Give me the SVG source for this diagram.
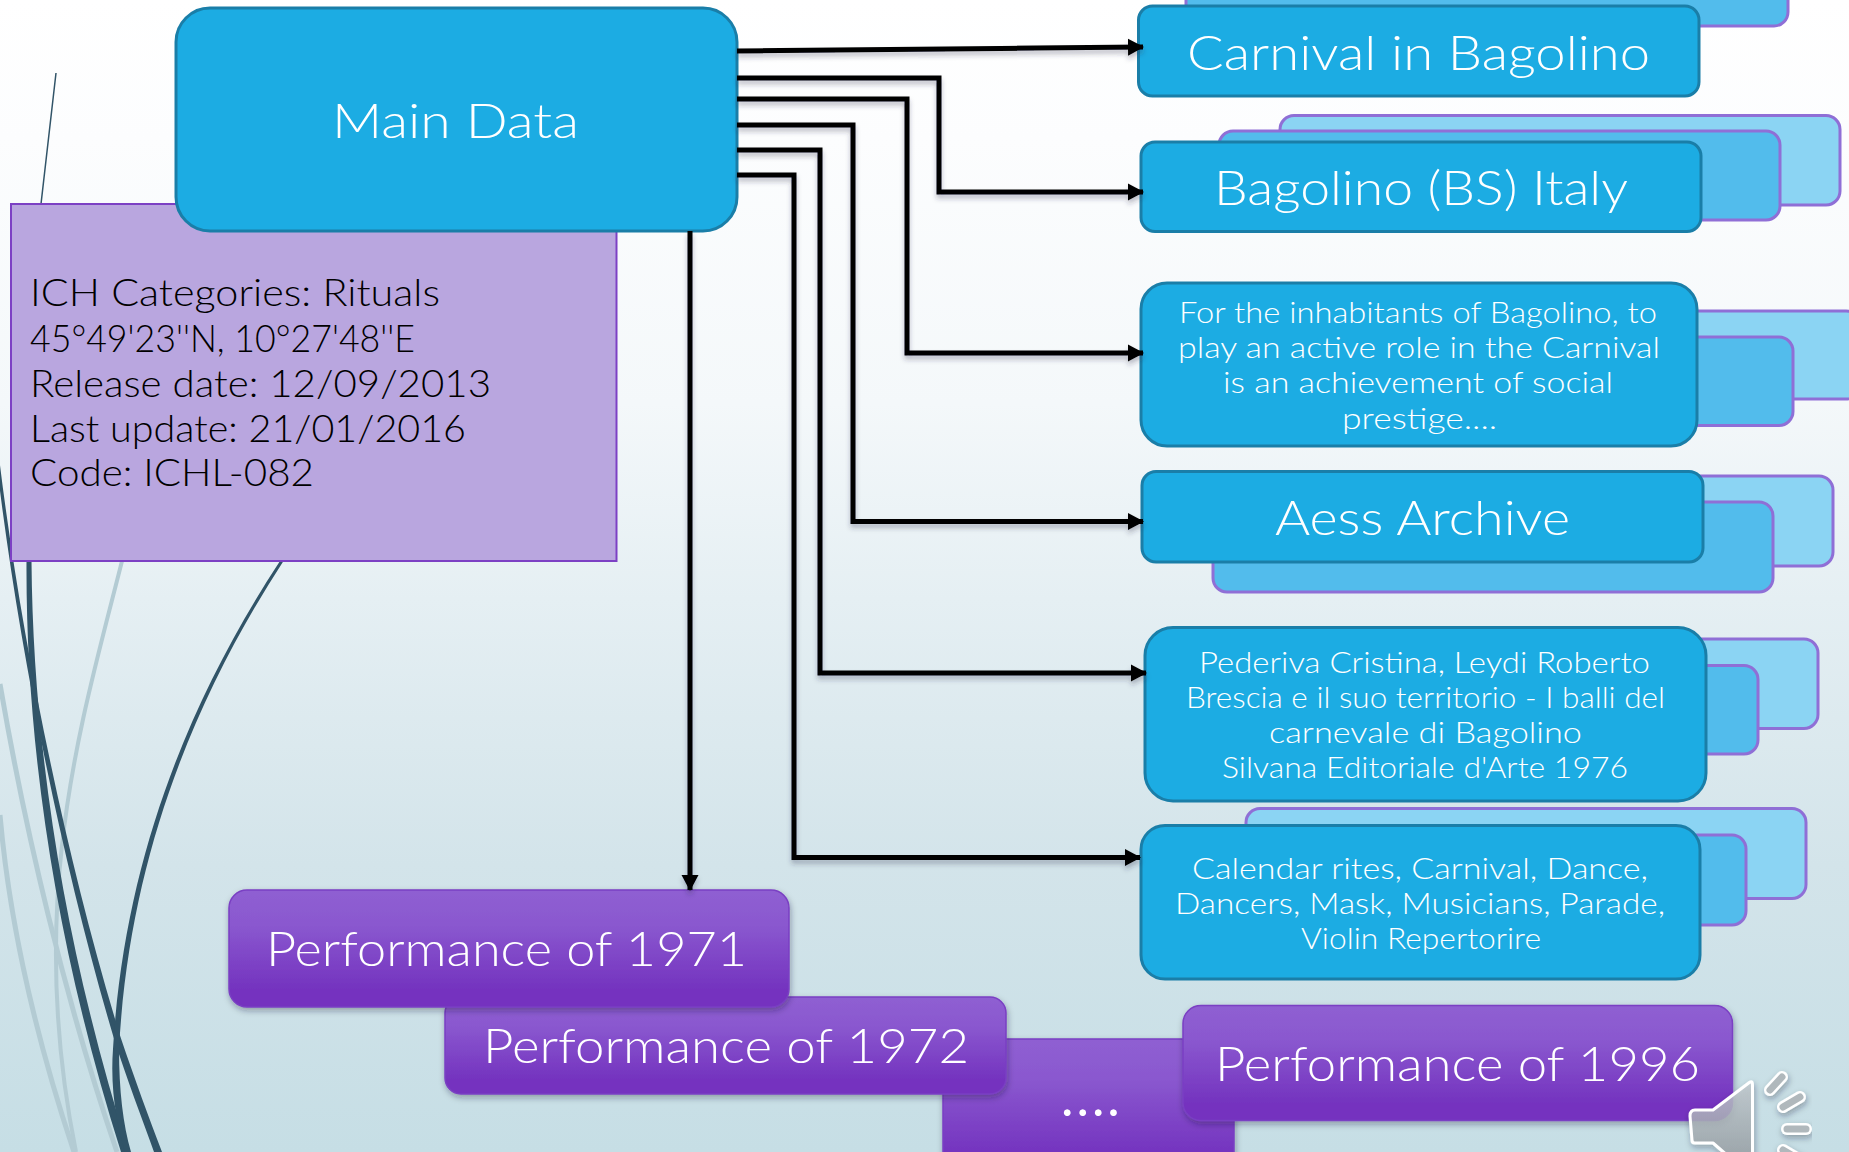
<svg xmlns="http://www.w3.org/2000/svg" width="1849" height="1152" viewBox="0 0 1849 1152">
<defs>
<linearGradient id="bg" x1="0" y1="0" x2="0" y2="1"><stop offset="0" stop-color="#ffffff"/><stop offset="0.12" stop-color="#fcfdfe"/><stop offset="0.35" stop-color="#f4f8fa"/><stop offset="0.52" stop-color="#e5eff3"/><stop offset="0.75" stop-color="#d3e4ea"/><stop offset="1" stop-color="#c6dee5"/></linearGradient>
<linearGradient id="pg" x1="0" y1="0" x2="0" y2="1"><stop offset="0" stop-color="#8f5fd2"/><stop offset="0.3" stop-color="#8a58cf"/><stop offset="0.85" stop-color="#7433bf"/><stop offset="1" stop-color="#7433bf"/></linearGradient>
<linearGradient id="sp" x1="0" y1="0" x2="0" y2="1"><stop offset="0" stop-color="#c3cbd0"/><stop offset="1" stop-color="#8f969b"/></linearGradient>
<filter id="ns" x="-5%" y="-10%" width="110%" height="125%"><feDropShadow dx="1" dy="3" stdDeviation="3" flood-color="#223" flood-opacity="0.35"/></filter>
<filter id="cs" x="-5%" y="-5%" width="110%" height="110%"><feDropShadow dx="0" dy="4" stdDeviation="2.5" flood-color="#334" flood-opacity="0.3"/></filter>
<marker id="ah" markerUnits="userSpaceOnUse" markerWidth="16" markerHeight="18" refX="15" refY="9" orient="auto"><path d="M0 0.5L16 9L0 17.500Z" fill="#000"/></marker>
</defs>
<style>
.t{font-family:Lato,"Open Sans","Liberation Sans",sans-serif;font-weight:300;fill:#fff}
.k{font-family:Lato,"Open Sans","Liberation Sans",sans-serif;font-weight:300;fill:#000;font-size:37px}
.big{font-size:47px}
.sm{font-size:29.5px}
.blue{fill:#1cace3;stroke:#1a7ea8;stroke-width:3}
.b1{fill:#52bcec;stroke:#8f6fd6;stroke-width:3}
.b2{fill:#8bd4f3;stroke:#8f6fd6;stroke-width:3}
.pur{fill:url(#pg);stroke:#7a3fc3;stroke-width:1.5}
.dk{fill:none;stroke:#315468}
.pl{fill:none;stroke:#b3cbd3}
.cn{fill:none;stroke:#000;stroke-width:5;stroke-linejoin:miter;marker-end:url(#ah)}
</style>
<rect width="1849" height="1152" fill="url(#bg)"/>
<g id="background-curves">
<path class="pl" stroke-width="4" d="M122 561C82 720 25 900 76 1152"/>
<path class="pl" stroke-width="5" d="M0 684C25 830 65 1000 117 1152"/>
<path class="pl" stroke-width="5" d="M0 815C10 930 40 1050 74 1152"/>
<path class="dk" stroke-width="1.500" d="M56 73L41 204L30 400L29 561"/>
<path fill="#315468" d="M26.500 561C25.500 750 57 950 121 1152H129C65 950 33 750 31.500 561Z"/>
<path fill="#315468" d="M-6 440C13.500 620 58 850 113.500 1037C127 1080 142 1118 154 1152H162C149 1118 135 1080 120.500 1037C63 850 17.500 620 -3 440Z"/>
<path fill="#315468" d="M280 561C189 700 124 860 113 1049C110 1090 117 1125 125 1152H131C123 1125 119 1090 119 1049C129 860 193 700 283.500 561Z"/>
</g>
<g id="node-info">
<rect x="11" y="204" width="605.500" height="357" fill="#b9a6df" stroke="#7c40c4" stroke-width="2"/>
<text class="k" x="30" y="306" textLength="410" lengthAdjust="spacingAndGlyphs">ICH Categories: Rituals</text>
<text class="k" x="30" y="352" textLength="385" lengthAdjust="spacingAndGlyphs">45°49'23''N, 10°27'48''E</text>
<text class="k" x="30" y="397" textLength="461" lengthAdjust="spacingAndGlyphs">Release date: 12/09/2013</text>
<text class="k" x="30" y="442" textLength="436" lengthAdjust="spacingAndGlyphs">Last update: 21/01/2016</text>
<text class="k" x="30" y="486" textLength="284" lengthAdjust="spacingAndGlyphs">Code: ICHL-082</text>
</g>
<g id="node-main">
<rect class="blue" x="176" y="8" width="561" height="223" rx="34"/>
<text class="t big" x="332" y="138" textLength="247" lengthAdjust="spacingAndGlyphs">Main Data</text>
</g>
<g id="node-carnival">
<rect class="b1" x="1186" y="-60" width="602" height="86" rx="14"/>
<rect class="blue" x="1138.500" y="6" width="560.500" height="90" rx="14"/>
<text class="t big" x="1187" y="70" textLength="463" lengthAdjust="spacingAndGlyphs">Carnival in Bagolino</text>
</g>
<g id="node-place">
<rect class="b2" x="1280" y="115.500" width="560" height="89.500" rx="14"/>
<rect class="b1" x="1219" y="131" width="561" height="89" rx="14"/>
<rect class="blue" x="1141" y="142" width="560" height="89.500" rx="14"/>
<text class="t big" x="1214" y="205" textLength="414" lengthAdjust="spacingAndGlyphs">Bagolino (BS) Italy</text>
</g>
<g id="node-description">
<rect class="b2" x="1300" y="311" width="560" height="88" rx="14"/>
<rect class="b1" x="1232" y="337" width="561" height="88.500" rx="14"/>
<rect class="blue" x="1141" y="283" width="556" height="163" rx="26"/>
<text class="t sm" x="1179" y="323" textLength="478" lengthAdjust="spacingAndGlyphs">For the inhabitants of Bagolino, to</text>
<text class="t sm" x="1178" y="358" textLength="482" lengthAdjust="spacingAndGlyphs">play an active role in the Carnival</text>
<text class="t sm" x="1223" y="393" textLength="390" lengthAdjust="spacingAndGlyphs">is an achievement of social</text>
<text class="t sm" x="1342" y="429" textLength="155" lengthAdjust="spacingAndGlyphs">prestige....</text>
</g>
<g id="node-archive">
<rect class="b2" x="1272" y="476" width="561" height="90" rx="14"/>
<rect class="b1" x="1213" y="502" width="560" height="90" rx="14"/>
<rect class="blue" x="1142" y="471.500" width="561" height="90.500" rx="14"/>
<text class="t big" x="1275" y="535" textLength="295" lengthAdjust="spacingAndGlyphs">Aess Archive</text>
</g>
<g id="node-bibliography">
<rect class="b2" x="1258" y="639" width="560" height="89.500" rx="14"/>
<rect class="b1" x="1198" y="665.500" width="560" height="88.500" rx="14"/>
<rect class="blue" x="1145" y="627.500" width="561" height="173.500" rx="28"/>
<text class="t sm" x="1199" y="673" textLength="451" lengthAdjust="spacingAndGlyphs">Pederiva Cristina, Leydi Roberto</text>
<text class="t sm" x="1186" y="708" textLength="479" lengthAdjust="spacingAndGlyphs">Brescia e il suo territorio - I balli del</text>
<text class="t sm" x="1269" y="743" textLength="313" lengthAdjust="spacingAndGlyphs">carnevale di Bagolino</text>
<text class="t sm" x="1222" y="778" textLength="406" lengthAdjust="spacingAndGlyphs">Silvana Editoriale d'Arte 1976</text>
</g>
<g id="node-keywords">
<rect class="b2" x="1246" y="808.500" width="560" height="90" rx="14"/>
<rect class="b1" x="1186" y="835" width="560" height="90" rx="14"/>
<rect class="blue" x="1141" y="825.500" width="559" height="153.500" rx="24"/>
<text class="t sm" x="1192" y="879" textLength="456" lengthAdjust="spacingAndGlyphs">Calendar rites, Carnival, Dance,</text>
<text class="t sm" x="1175" y="914" textLength="490" lengthAdjust="spacingAndGlyphs">Dancers, Mask, Musicians, Parade,</text>
<text class="t sm" x="1301" y="949" textLength="240" lengthAdjust="spacingAndGlyphs">Violin Repertorire</text>
</g>
<g id="node-dots" filter="url(#ns)">
<rect class="pur" x="943" y="1039" width="291" height="135" rx="20"/>
<text x="1062" y="1116" font-size="44" letter-spacing="5" fill="#fff" style="font-family:Lato,sans-serif;font-weight:700">....</text>
</g>
<g id="node-1972" filter="url(#ns)">
<rect class="pur" x="445" y="997" width="561" height="97" rx="16"/>
<text class="t big" x="483" y="1063" textLength="486" lengthAdjust="spacingAndGlyphs">Performance of 1972</text>
</g>
<g id="node-1971" filter="url(#ns)">
<rect class="pur" x="229" y="890" width="560" height="117" rx="18"/>
<text class="t big" x="266" y="966" textLength="481" lengthAdjust="spacingAndGlyphs">Performance of 1971</text>
</g>
<g id="node-1996" filter="url(#ns)">
<rect class="pur" x="1183" y="1005.500" width="549.500" height="115" rx="18"/>
<text class="t big" x="1215" y="1081" textLength="485" lengthAdjust="spacingAndGlyphs">Performance of 1996</text>
</g>
<g id="connectors" filter="url(#cs)">
<path class="cn" d="M737 51L1143 47"/>
<path class="cn" d="M737 78H939V192H1143"/>
<path class="cn" d="M737 99H907V353H1143"/>
<path class="cn" d="M737 125H853V521.500H1143"/>
<path class="cn" d="M737 150H820V673H1146"/>
<path class="cn" d="M737 175H794V857.500H1140"/>
<path class="cn" d="M690 231V890"/>
</g>
<g id="speaker" filter="url(#ns)">
<path d="M1750 1082C1752 1081 1752.500 1083 1752.500 1085V1175H1750L1713 1143H1695Q1692 1143 1692 1140L1690 1116Q1690 1110 1695 1110H1713Z" fill="url(#sp)" fill-opacity="0.8" stroke="#fff" stroke-width="3" stroke-linejoin="round"/>
<path d="M1770 1090L1782 1077" stroke="#fff" stroke-width="12" stroke-linecap="round"/>
<path d="M1770 1090L1782 1077" stroke="#b0b8bc" stroke-width="7" stroke-linecap="round"/>
<path d="M1783 1107L1800 1097" stroke="#fff" stroke-width="12" stroke-linecap="round"/>
<path d="M1783 1107L1800 1097" stroke="#b0b8bc" stroke-width="7" stroke-linecap="round"/>
<path d="M1787 1129H1806" stroke="#fff" stroke-width="12" stroke-linecap="round"/>
<path d="M1787 1129H1806" stroke="#b0b8bc" stroke-width="7" stroke-linecap="round"/>
<path d="M1783 1150L1800 1160" stroke="#fff" stroke-width="12" stroke-linecap="round"/>
<path d="M1783 1150L1800 1160" stroke="#b0b8bc" stroke-width="7" stroke-linecap="round"/>
</g>
</svg>
